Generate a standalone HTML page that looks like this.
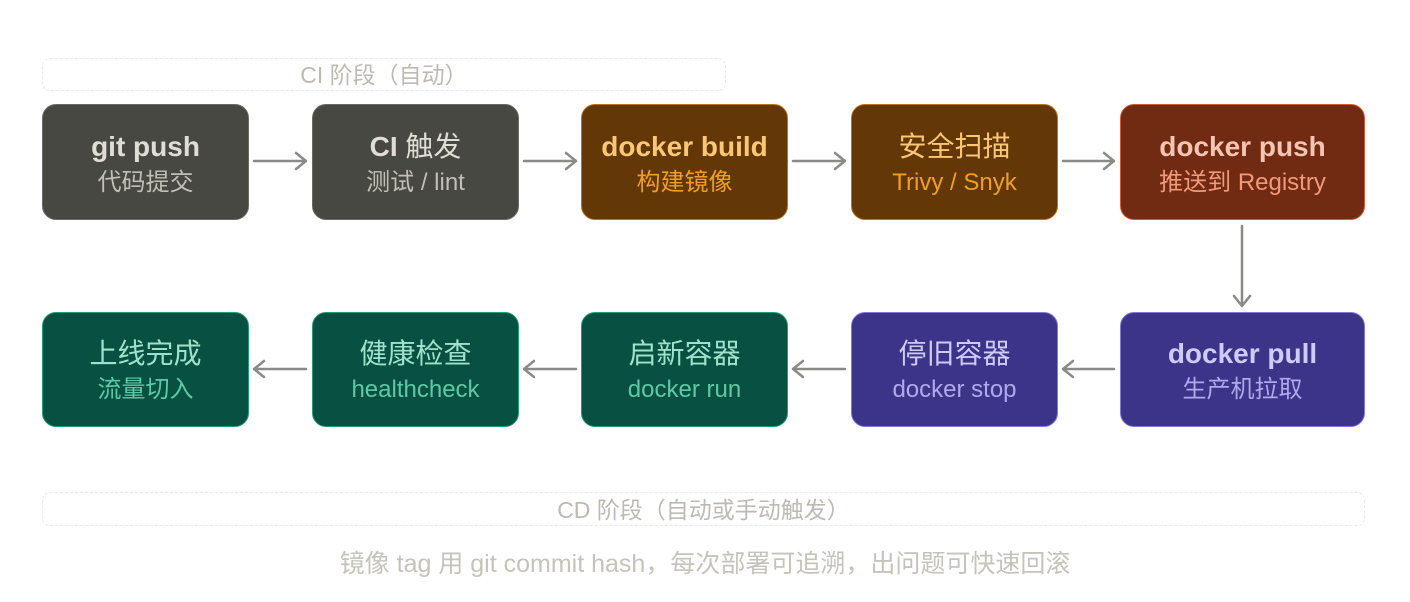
<!DOCTYPE html>
<html><head><meta charset="utf-8"><style>
body{margin:0;width:1410px;height:602px;background:#fff;position:relative;overflow:hidden;font-family:"Liberation Sans","Noto Sans CJK SC",sans-serif}
.g{position:absolute;border:1px dashed #eceae4;border-radius:8px;box-sizing:border-box}
.gl{position:absolute;color:#bdbab2;font-size:23px;text-align:center}
.n{position:absolute;box-sizing:border-box;border-radius:14px;border:1px solid;text-align:center;display:flex;flex-direction:column;justify-content:center;padding-top:5px}
.t{font-size:28px;line-height:36px}
.t b{font-weight:bold}
.s{font-size:24px;line-height:36px}
.gray{background:#484842;border-color:#6b6b63}.gray .t{color:#e0ddd5}.gray .s{color:#c2bfb6}
.br{background:#633806;border-color:#ba7517}.br .t{color:#fac775}.br .s{color:#ef9f27}
.rd{background:#712b13;border-color:#d85a30}.rd .t{color:#f5c4b3}.rd .s{color:#f0997b}
.pu{background:#3c3489;border-color:#7f77dd}.pu .t{color:#cecbf6}.pu .s{color:#afa9ec}
.gr{background:#085041;border-color:#1d9e75}.gr .t{color:#9fe1cb}.gr .s{color:#5dcaa5}
</style></head><body>
<div class="g" style="left:42px;top:58px;width:684px;height:33px"></div>
<div class="gl" style="left:42px;top:56px;width:684px">CI 阶段（自动）</div>
<div class="g" style="left:42px;top:492px;width:1323px;height:34px"></div>
<div class="gl" style="left:42px;top:491px;width:1323px">CD 阶段（自动或手动触发）</div>
<div class="gl" style="left:0;top:544px;width:1410px;font-size:25px;color:#c6c3ba">镜像 tag 用 git commit hash，每次部署可追溯，出问题可快速回滚</div>

<div class="n gray" style="left:42px;top:104px;width:207px;height:116px"><div class="t"><b>git push</b></div><div class="s">代码提交</div></div>
<div class="n gray" style="left:312px;top:104px;width:207px;height:116px"><div class="t"><b>CI</b> 触发</div><div class="s">测试 / lint</div></div>
<div class="n br" style="left:581px;top:104px;width:207px;height:116px"><div class="t"><b>docker build</b></div><div class="s">构建镜像</div></div>
<div class="n br" style="left:851px;top:104px;width:207px;height:116px"><div class="t">安全扫描</div><div class="s">Trivy / Snyk</div></div>
<div class="n rd" style="left:1120px;top:104px;width:245px;height:116px"><div class="t"><b>docker push</b></div><div class="s">推送到 Registry</div></div>

<div class="n gr" style="left:42px;top:312px;width:207px;height:115px"><div class="t">上线完成</div><div class="s">流量切入</div></div>
<div class="n gr" style="left:312px;top:312px;width:207px;height:115px"><div class="t">健康检查</div><div class="s">healthcheck</div></div>
<div class="n gr" style="left:581px;top:312px;width:207px;height:115px"><div class="t">启新容器</div><div class="s">docker run</div></div>
<div class="n pu" style="left:851px;top:312px;width:207px;height:115px"><div class="t">停旧容器</div><div class="s">docker stop</div></div>
<div class="n pu" style="left:1120px;top:312px;width:245px;height:115px"><div class="t"><b>docker pull</b></div><div class="s">生产机拉取</div></div>

<svg width="1410" height="602" style="position:absolute;left:0;top:0" fill="none" stroke="#8a8a86" stroke-width="2.5" stroke-linecap="round" stroke-linejoin="round">
<path d="M254 161H306M296 153L306 161L296 169"/>
<path d="M524 161H576M566 153L576 161L566 169"/>
<path d="M793 161H845M835 153L845 161L835 169"/>
<path d="M1063 161H1114M1104 153L1114 161L1104 169"/>
<path d="M1242 226V306M1234 296L1242 306L1250 296"/>
<path d="M1114 369H1063M1073 361L1063 369L1073 377"/>
<path d="M845 369H793M803 361L793 369L803 377"/>
<path d="M576 369H524M534 361L524 369L534 377"/>
<path d="M306 369H254M264 361L254 369L264 377"/>
</svg>
</body></html>
